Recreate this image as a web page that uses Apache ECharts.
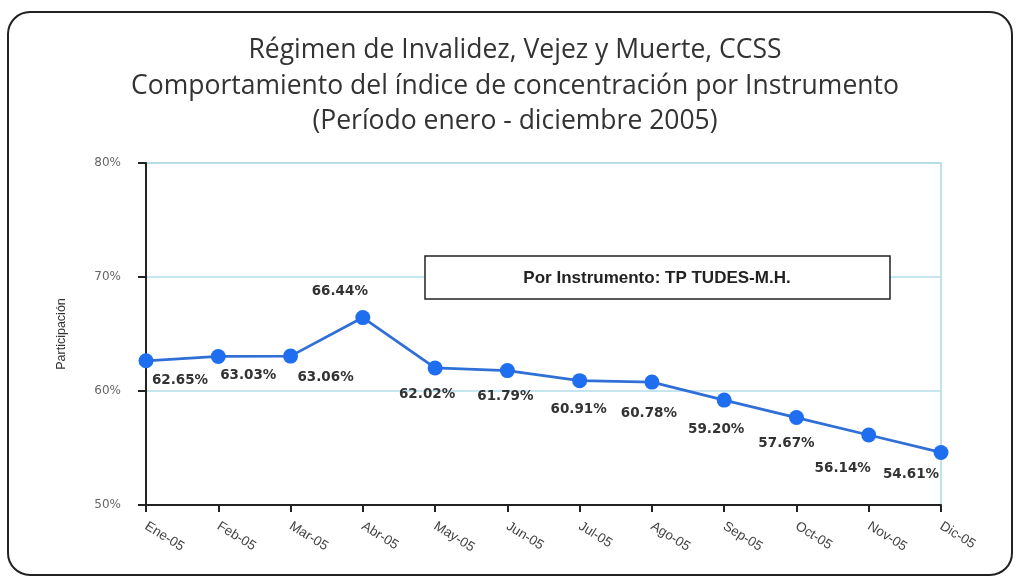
<!DOCTYPE html>
<html><head><meta charset="utf-8">
<script src="https://cdn.jsdelivr.net/npm/echarts@6/dist/echarts.min.js"></script>
<style>html,body{margin:0;padding:0;background:#fff}#c{width:1020px;height:578px}</style>
</head><body><div id="c"></div>
<script>
const categories = ['Ene-05','Feb-05','Mar-05','Abr-05','May-05','Jun-05','Jul-05','Ago-05','Sep-05','Oct-05','Nov-05','Dic-05'];
const values = [62.65, 63.03, 63.06, 66.44, 62.02, 61.79, 60.91, 60.78, 59.20, 57.67, 56.14, 54.61];
const yTicks = [50, 60, 70, 80];
const titleLines = ['Régimen de Invalidez, Vejez y Muerte, CCSS','Comportamiento del índice de concentración por Instrumento','(Período enero - diciembre 2005)'];
const boxText = 'Por Instrumento: TP TUDES-M.H.';
// label placement (layout, not data)
const labelOffsets = [[34,20],[30,19],[35,21],[-23,-26],[-8,27],[-2,26],[-1,29],[-3,31],[-8,29],[-10,26],[-26,33],[-30,22]];

const chart = echarts.init(document.getElementById('c'));
chart.setOption({
  animation:false,
  grid:{left:146,right:79,top:163,bottom:73,show:true,borderColor:'#a9d9e8',borderWidth:1.5},
  xAxis:{type:'category',data:categories,boundaryGap:false,
    axisLine:{lineStyle:{color:'#222',width:2}},
    axisTick:{show:true,alignWithLabel:true,length:7,lineStyle:{color:'#222',width:2}},
    axisLabel:{rotate:-32,margin:20,color:'#444',fontFamily:'Liberation Sans',fontSize:13.5,interval:0},
    splitLine:{show:false}},
  yAxis:{type:'value',min:yTicks[0],max:yTicks[yTicks.length-1],interval:10,
    name:'Participación',nameLocation:'middle',nameGap:78,nameRotate:90,
    nameTextStyle:{fontFamily:'Liberation Sans',fontSize:12.5,color:'#333'},
    axisLine:{show:true,lineStyle:{color:'#222',width:2}},
    axisTick:{show:true,length:8,lineStyle:{color:'#222',width:2}},
    axisLabel:{formatter:'{value}%',color:'#666',fontFamily:'DejaVu Sans',fontSize:12,margin:25},
    splitLine:{lineStyle:{color:'#b3deea',width:1.5}}},
  series:[{type:'line',
    data:values.map((v,i)=>({value:v,label:{offset:labelOffsets[i]}})),
    symbol:'circle',symbolSize:15,
    lineStyle:{color:'#2f6fd6',width:2.8},
    itemStyle:{color:'#1f6ef0'},
    label:{show:true,position:'inside',formatter:p=>p.value.toFixed(2)+'%',
      fontFamily:'DejaVu Sans',fontWeight:'bold',fontSize:13.5,color:'#333'}}],
  graphic:[
    {type:'rect',shape:{x:8,y:12,width:1004,height:563,r:22},style:{fill:'none',stroke:'#222',lineWidth:2},z:-1},
    {type:'text',x:515,y:50,style:{text:titleLines[0],textAlign:'center',textVerticalAlign:'middle',fontFamily:'Open Sans',fontSize:26.5,fill:'#333'}},
    {type:'text',x:515,y:86,style:{text:titleLines[1],textAlign:'center',textVerticalAlign:'middle',fontFamily:'Open Sans',fontSize:26.5,fill:'#333'}},
    {type:'text',x:515,y:121,style:{text:titleLines[2],textAlign:'center',textVerticalAlign:'middle',fontFamily:'Open Sans',fontSize:26.5,fill:'#333'}},
    {type:'rect',shape:{x:425,y:256,width:465,height:43},style:{fill:'#fff',stroke:'#222',lineWidth:1.5},z:10},
    {type:'text',x:657,y:278,style:{text:boxText,textAlign:'center',textVerticalAlign:'middle',
      fontFamily:'Liberation Sans',fontWeight:'bold',fontSize:17,fill:'#222'},z:11}
  ]
});
</script></body></html>
